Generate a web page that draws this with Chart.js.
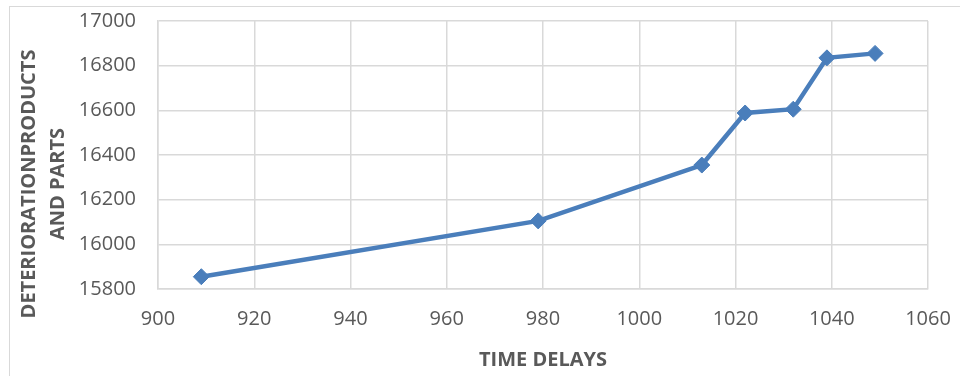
<!DOCTYPE html>
<html>
<head>
<meta charset="utf-8">
<script src="https://cdn.jsdelivr.net/npm/chart.js@4"></script>
<style>
  html, body { margin: 0; padding: 0; background: #fff; }
  #wrap { position: relative; width: 960px; height: 376px; overflow: hidden; }
  #frame { position: absolute; left: 9px; top: 6px; width: 1000px; height: 400px; border: 1px solid #d9d9d9; box-sizing: border-box; }
  #c { position: absolute; left: 0; top: 0; }
</style>
</head>
<body>
<div id="wrap">
  <div id="frame"></div>
  <canvas id="c" width="960" height="376"></canvas>
</div>
<script>
// Time delay vs. deterioration products and parts
const timeDelays = [909, 979, 1013, 1022, 1032, 1039, 1049];
const deterioration = [15855, 16105, 16355, 16588, 16605, 16835, 16855];
const xTicks = [900, 920, 940, 960, 980, 1000, 1020, 1040, 1060];
const yTicks = [15800, 16000, 16200, 16400, 16600, 16800, 17000];
const yTitleLines = ['DETERIORATIONPRODUCTS', 'AND PARTS'];
const xTitle = 'TIME DELAYS';

const FONT = "'Open Sans', 'Liberation Sans', sans-serif";
const TEXT = '#595959';
const GRID = '#d9d9d9';
const BLUE = '#4a7ebb';

// Two-line rotated title for the value axis
const yTitlePlugin = {
  id: 'yTitle',
  afterDraw(chart) {
    const ctx = chart.ctx;
    const area = chart.chartArea;
    const cy = (area.top + area.bottom) / 2 + 29;
    ctx.save();
    ctx.fillStyle = TEXT;
    ctx.font = 'bold 20px ' + FONT;
    ctx.textAlign = 'center';
    ctx.textBaseline = 'middle';
    const xs = [29, 58];
    yTitleLines.forEach((line, i) => {
      ctx.save();
      ctx.translate(xs[i], cy);
      ctx.rotate(-Math.PI / 2);
      ctx.fillText(line, 0, 0);
      ctx.restore();
    });
    ctx.restore();
  }
};

new Chart(document.getElementById('c'), {
  type: 'line',
  data: {
    datasets: [{
      data: timeDelays.map((x, i) => ({ x, y: deterioration[i] })),
      borderColor: BLUE,
      backgroundColor: BLUE,
      borderWidth: 4.5,
      pointStyle: 'rectRot',
      pointRadius: 8,
      pointBorderWidth: 1,
      pointBackgroundColor: BLUE,
      pointBorderColor: BLUE,
      tension: 0,
      fill: false
    }]
  },
  options: {
    responsive: false,
    animation: false,
    devicePixelRatio: 1,
    layout: { padding: { left: 0, right: 32, top: 21, bottom: 0 } },
    plugins: { legend: { display: false }, tooltip: { enabled: false } },
    scales: {
      x: {
        type: 'linear',
        min: 900,
        max: 1060,
        afterBuildTicks(scale) { scale.ticks = xTicks.map(v => ({ value: v })); },
        afterFit(scale) {
          scale.height = 87;
          scale.paddingLeft = 0;
          scale.paddingRight = 0;
        },
        grid: { color: GRID, lineWidth: 1.5, drawTicks: false },
        border: { color: GRID, width: 1.5 },
        ticks: { color: TEXT, font: { family: FONT, size: 20 }, padding: 18, maxRotation: 0, callback: v => String(v) },
        title: { display: true, text: xTitle, color: TEXT, font: { family: FONT, size: 20, weight: 'bold' }, padding: { top: 3, bottom: 4 } }
      },
      y: {
        type: 'linear',
        min: 15800,
        max: 17000,
        afterBuildTicks(scale) { scale.ticks = yTicks.map(v => ({ value: v })); },
        afterFit(scale) {
          scale.width = 158;
          scale.paddingTop = 0;
          scale.paddingBottom = 0;
        },
        grid: { color: GRID, lineWidth: 1.5, drawTicks: false },
        border: { color: GRID, width: 1.5 },
        ticks: { color: TEXT, font: { family: FONT, size: 20 }, padding: 22, callback: v => String(v) }
      }
    }
  },
  plugins: [yTitlePlugin]
});
</script>
</body>
</html>
